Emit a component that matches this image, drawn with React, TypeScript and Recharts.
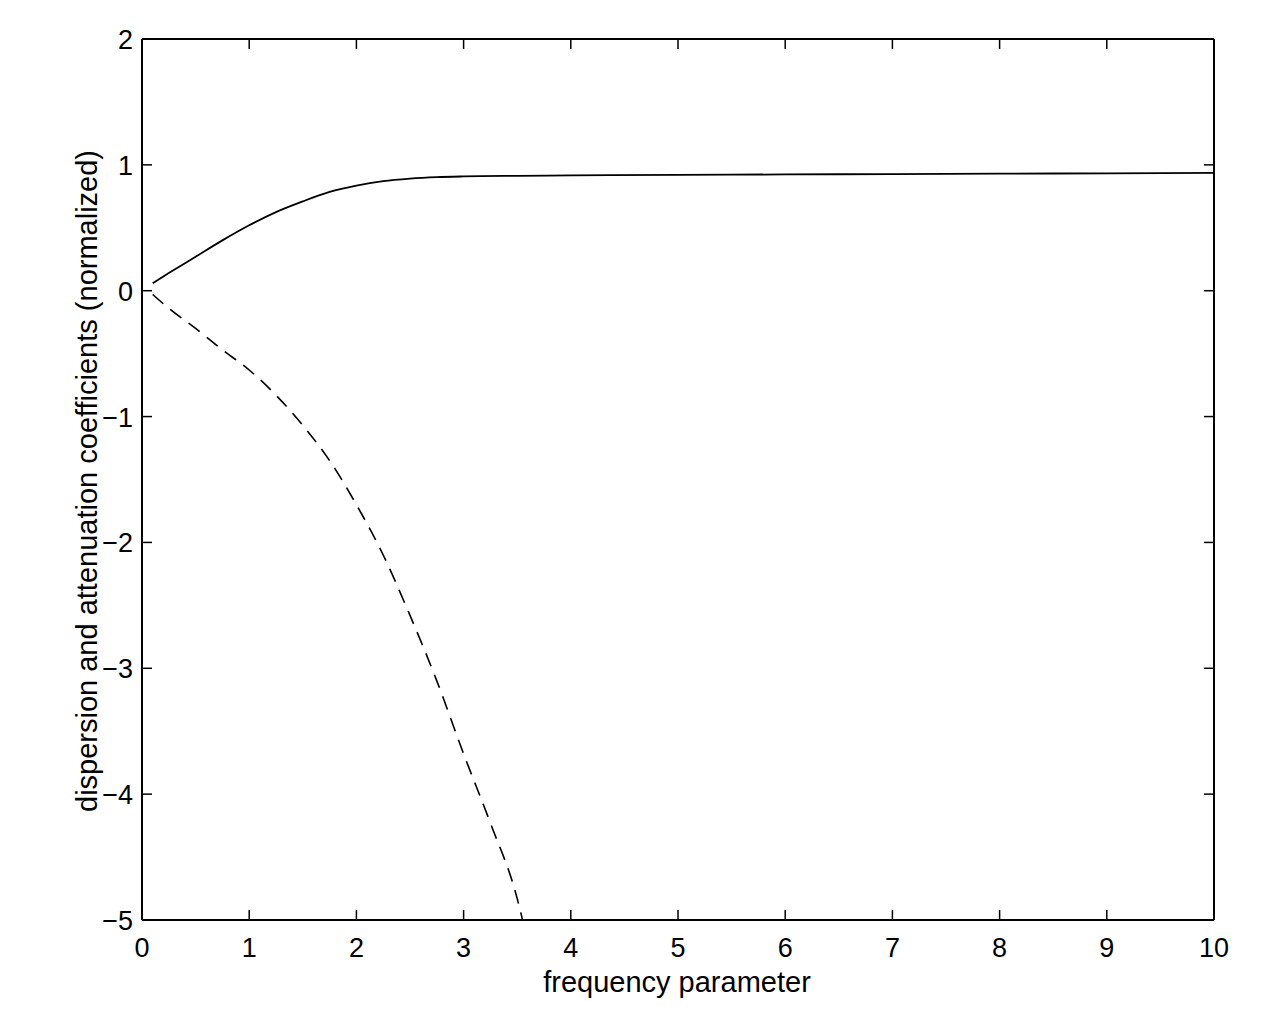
import React from "react";
import { LineChart, Line, XAxis, YAxis, Label, ReferenceLine } from "recharts";

const solidX = [0.1, 0.25, 0.5, 0.75, 1, 1.25, 1.5, 1.75, 2, 2.25, 2.5, 2.75, 3, 3.5, 4, 5, 6, 7, 8, 9, 10];
const solidY = [0.06, 0.14, 0.27, 0.4, 0.52, 0.625, 0.71, 0.785, 0.835, 0.87, 0.89, 0.902, 0.908, 0.913, 0.916, 0.92, 0.924, 0.927, 0.93, 0.933, 0.936];

const dashedX = [0.1, 0.25, 0.5, 0.75, 1, 1.25, 1.5, 1.75, 2, 2.25, 2.5, 2.75, 3, 3.25, 3.5, 3.55];
const dashedY = [-0.03, -0.14, -0.3, -0.47, -0.63, -0.83, -1.07, -1.35, -1.7, -2.1, -2.58, -3.1, -3.68, -4.23, -4.83, -5.0];

const xTicks = [0, 1, 2, 3, 4, 5, 6, 7, 8, 9, 10];
const yTicks = [-5, -4, -3, -2, -1, 0, 1, 2];

const solidData = solidX.map((x, i) => ({ x, y: solidY[i] }));
const dashedData = dashedX.map((x, i) => ({ x, y: dashedY[i] }));

const FONT = "'Liberation Sans', Arial, Helvetica, sans-serif";
const fmt = (v: number) => (v < 0 ? "\u2212" + Math.abs(v) : String(v));

const BottomTick = (props: any) => {
  const { x, y, payload } = props;
  return (
    <g>
      <line x1={x} y1={y} x2={x} y2={y - 10} stroke="#000" strokeWidth={1.5} />
      <text x={x} y={y + 37} textAnchor="middle" fontFamily={FONT} fontSize={27} fill="#000">
        {fmt(payload.value)}
      </text>
    </g>
  );
};
const LeftTick = (props: any) => {
  const { x, y, payload } = props;
  return (
    <g>
      <line x1={x} y1={y} x2={x + 10} y2={y} stroke="#000" strokeWidth={1.5} />
      <text x={x - 9} y={y + 10} textAnchor="end" fontFamily={FONT} fontSize={27} fill="#000">
        {fmt(payload.value)}
      </text>
    </g>
  );
};

// short inward tick at the top edge of a vertical reference line
const TopTickShape = (p: any) => {
  const top = Math.min(p.y1, p.y2);
  return <line x1={p.x1} y1={top} x2={p.x1} y2={top + 10} stroke="#000" strokeWidth={1.5} />;
};
// short inward tick at the right edge of a horizontal reference line
const RightTickShape = (p: any) => {
  const right = Math.max(p.x1, p.x2);
  return <line x1={right} y1={p.y1} x2={right - 10} y2={p.y1} stroke="#000" strokeWidth={1.5} />;
};

export default function App() {
  return (
    <div style={{ position: "absolute", left: 0, top: 0, background: "#fff" }}>
      <LineChart width={1282} height={1026} margin={{ top: 39, right: 68, bottom: 46, left: 0 }}>
        <XAxis
          dataKey="x"
          type="number"
          domain={[0, 10]}
          ticks={xTicks}
          allowDataOverflow
          height={60}
          tickSize={0}
          tickMargin={0}
          tickLine={false}
          tick={<BottomTick />}
          axisLine={{ stroke: "#000", strokeWidth: 2 }}
        >
          <Label
            content={() => (
              <text x={677} y={992} textAnchor="middle" fontFamily={FONT} fontSize={29} fill="#000">
                frequency parameter
              </text>
            )}
          />
        </XAxis>
        <YAxis
          type="number"
          domain={[-5, 2]}
          ticks={yTicks}
          allowDataOverflow
          width={142}
          tickSize={0}
          tickMargin={0}
          tickLine={false}
          tick={<LeftTick />}
          axisLine={{ stroke: "#000", strokeWidth: 2 }}
        >
          <Label
            content={() => (
              <text
                x={0}
                y={0}
                transform="translate(97,481) rotate(-90)"
                textAnchor="middle"
                fontFamily={FONT}
                fontSize={29}
                fill="#000"
              >
                dispersion and attenuation coefficients (normalized)
              </text>
            )}
          />
        </YAxis>
        <ReferenceLine y={2} stroke="#000" strokeWidth={2} />
        <ReferenceLine x={10} stroke="#000" strokeWidth={2} />
        {xTicks.slice(1, -1).map((t) => (
          <ReferenceLine key={"tx" + t} x={t} shape={TopTickShape} />
        ))}
        {yTicks.slice(1, -1).map((t) => (
          <ReferenceLine key={"ty" + t} y={t} shape={RightTickShape} />
        ))}
        <Line
          data={solidData}
          dataKey="y"
          type="monotone"
          stroke="#000"
          strokeWidth={1.8}
          dot={false}
          activeDot={false}
          isAnimationActive={false}
        />
        <Line
          data={dashedData}
          dataKey="y"
          type="monotone"
          stroke="#000"
          strokeWidth={1.6}
          strokeDasharray="14 9"
          dot={false}
          activeDot={false}
          isAnimationActive={false}
        />
      </LineChart>
    </div>
  );
}
